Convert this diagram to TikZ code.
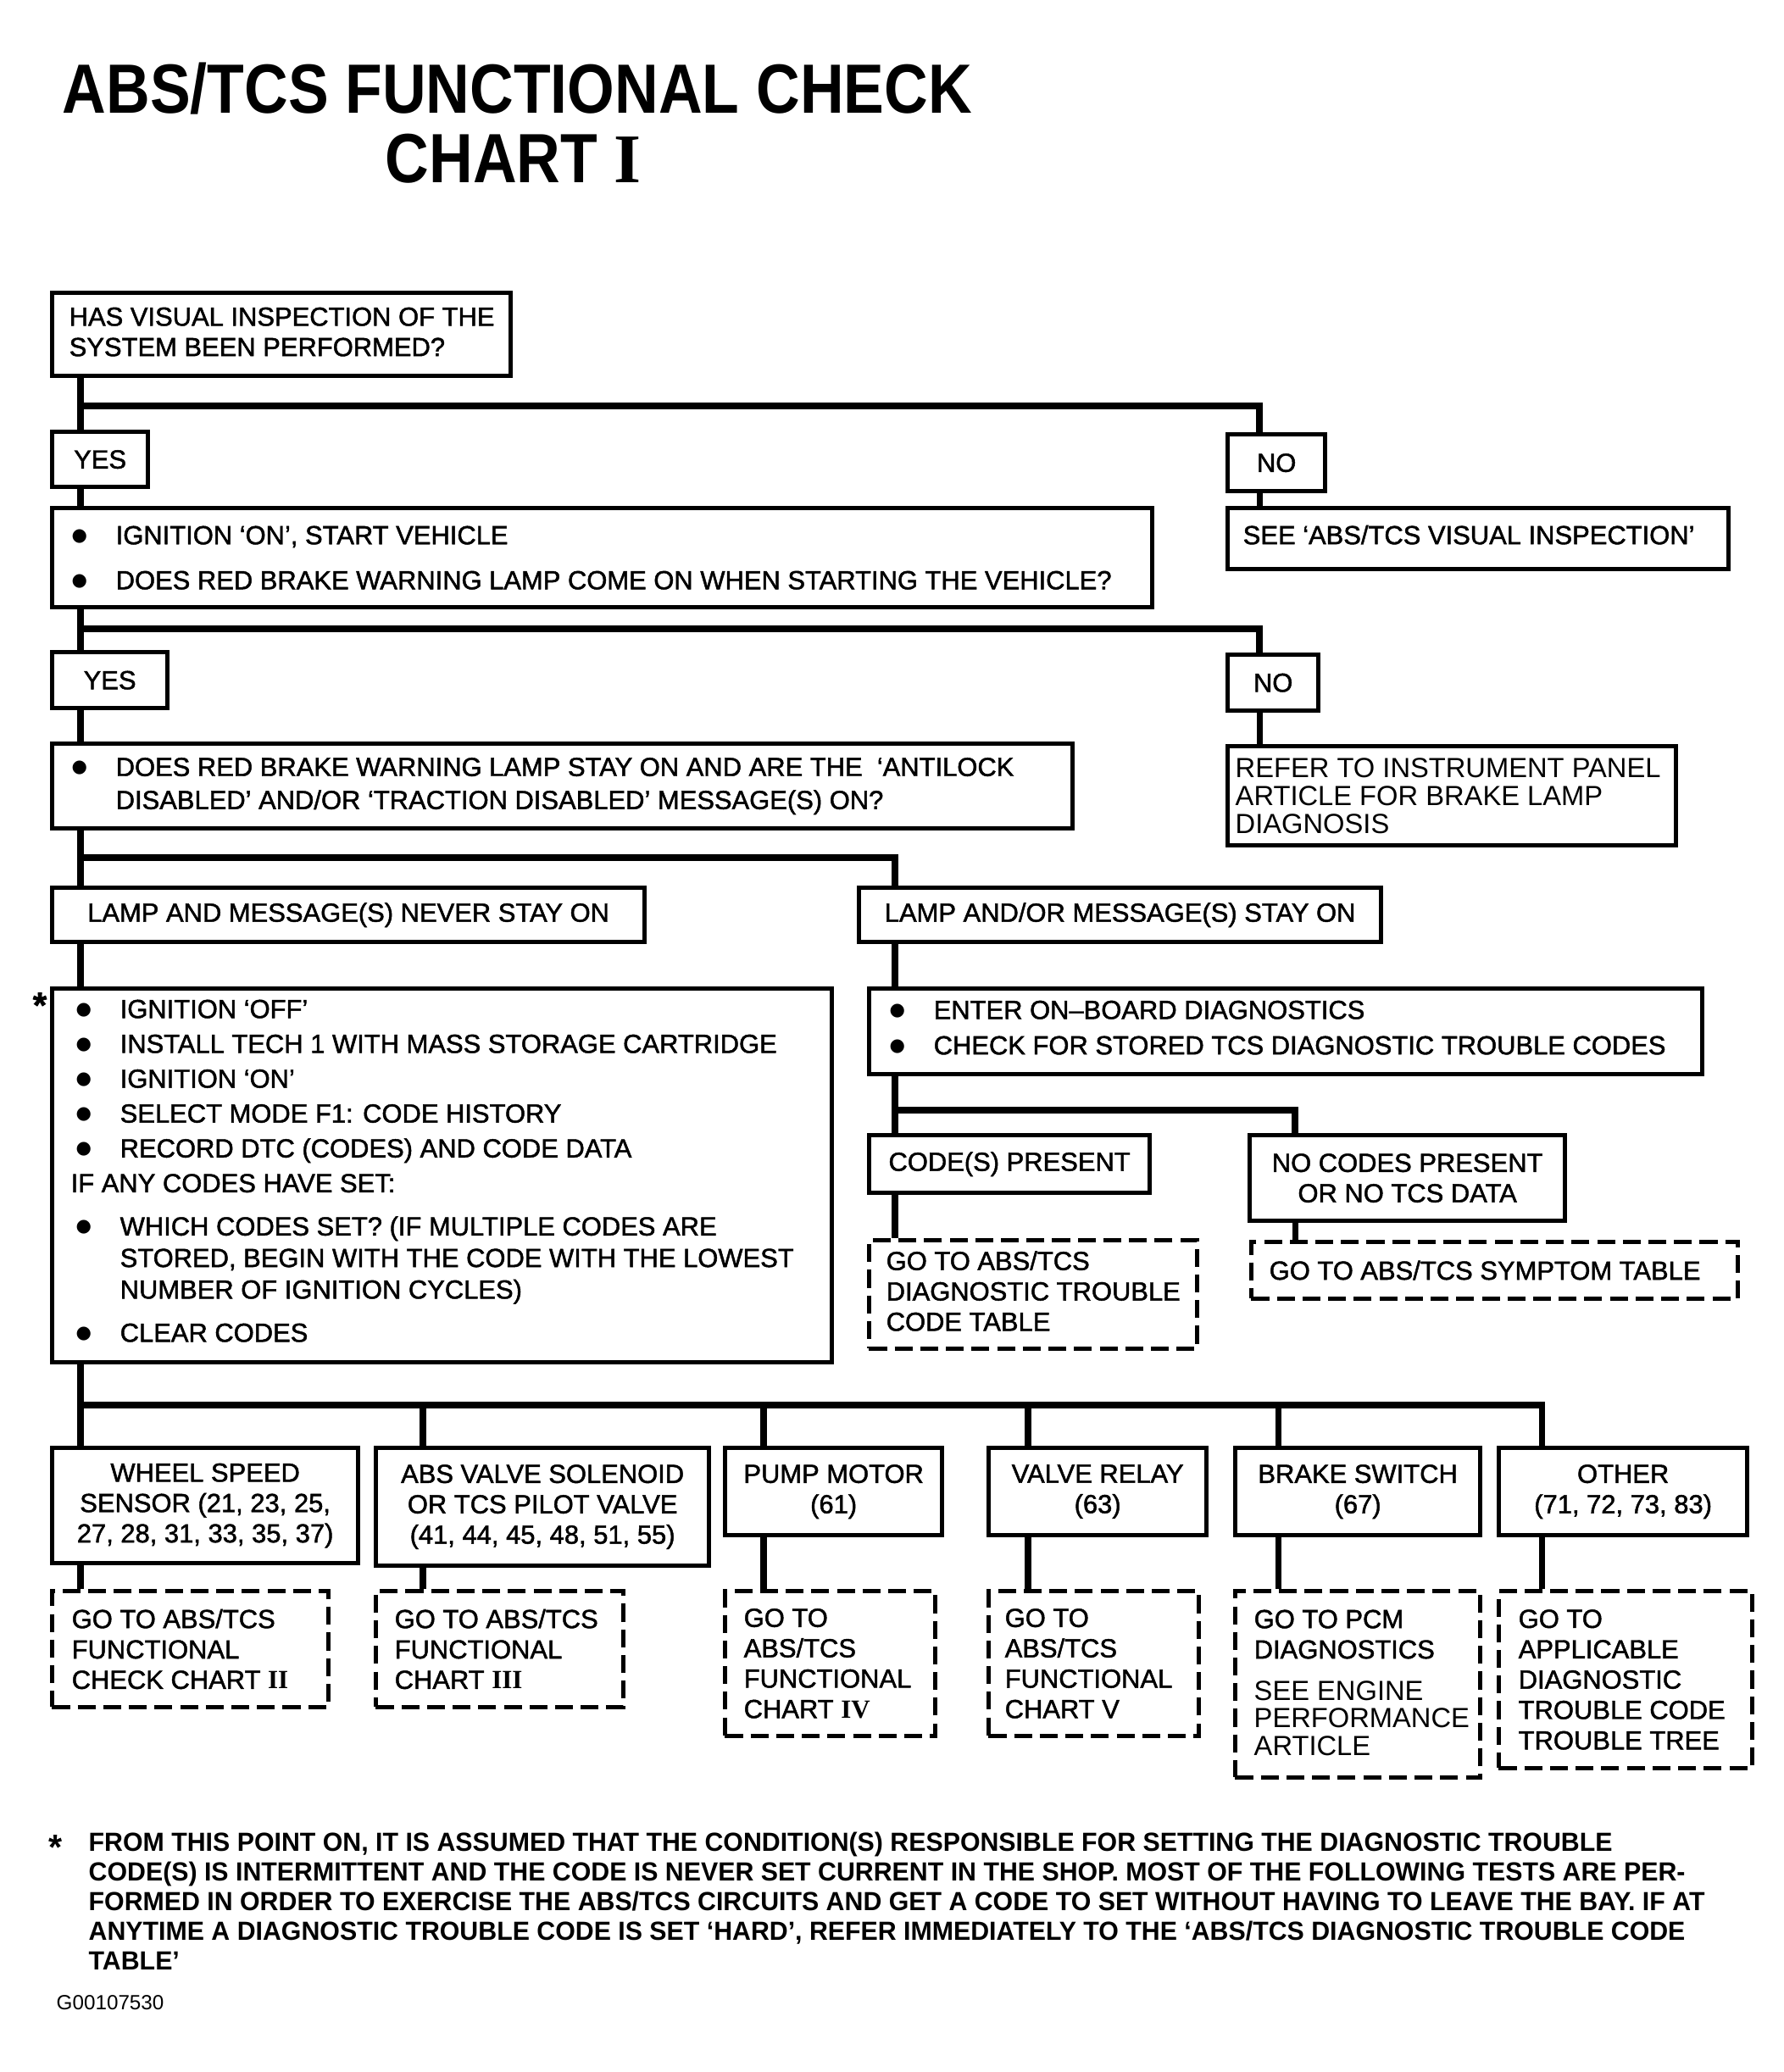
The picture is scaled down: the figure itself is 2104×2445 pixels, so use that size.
\documentclass[tikz,border=0pt]{standalone}
\usepackage{fontspec}
\setmainfont{Liberation Sans}
\newfontfamily\boxfont{Liberation Sans}[FakeBold=1.5]
\newfontfamily\lightfont{Liberation Sans}
\newfontfamily\headfont{Liberation Sans}[FakeStretch=0.87]
\newfontfamily\notefont{Liberation Sans}[FakeStretch=0.98]
\newfontfamily\numfont{Liberation Serif}
\newfontfamily\dotfont{DejaVu Sans}
\usetikzlibrary{positioning}
\definecolor{ink}{RGB}{0,0,0}
\newcommand{\boxsize}{\boxfont\fontsize{8.8pt}{10.2pt}\selectfont}
\newcommand{\lightsize}{\lightfont\fontsize{9.3pt}{9.3pt}\selectfont}
\newcommand{\itm}[1]{\makebox[5.2mm][l]{\raisebox{0.4mm}{\dotfont\fontsize{6pt}{6pt}\selectfont ●}}#1}
\newcommand{\ind}[1]{\hspace*{5.2mm}#1}
\newcommand{\rn}[1]{{\numfont\bfseries #1}}
\tikzset{
  frame/.style={draw=ink, line width=1.5pt, anchor=north west, inner sep=0pt},
  dframe/.style={frame, line width=1.4pt, dash pattern=on 6pt off 2.6pt},
  cbox/.style={frame, align=center, font=\boxsize, text=ink},
  txt/.style={inner sep=0pt, align=left, font=\boxsize, text=ink},
  wire/.style={draw=ink, line width=2pt, line join=miter},
  branch/.style={wire, line width=2.3pt, line cap=rect},
}
\begin{document}
\begin{tikzpicture}[x=0.1mm,y=-0.1mm]
  \useasboundingbox (0,0) rectangle (2104,2445);
  % heading
  \node[anchor=base west, inner sep=0pt, font=\headfont\bfseries\fontsize{23.4pt}{28pt}\selectfont] (head) at (73,133) {ABS/TCS FUNCTIONAL CHECK};
  \node[anchor=base west, inner sep=0pt, font=\headfont\bfseries\fontsize{23.4pt}{28pt}\selectfont] (headnum) at (454,215) {CHART {\numfont\bfseries I}};
  % column lines
  \coordinate (tL) at (95,0);
  \coordinate (tM) at (1056,0);
  \coordinate (tR) at (1486,0);
  \coordinate (tN) at (1528,0);
  % first question
  \node[frame, minimum width=54.1mm, minimum height=9.8mm] (visual) at (59,343) {};
  \node[txt, right=2.2mm of visual.west, yshift=0.3mm] (visualtx) {HAS VISUAL INSPECTION OF THE\\SYSTEM BEEN PERFORMED?};
  \node[cbox, minimum width=11.3mm, minimum height=6.5mm] (yes1) at (59,507) {YES};
  \node[cbox, minimum width=11.5mm, minimum height=6.7mm] (no1) at (1446,510) {NO};
  \node[frame, minimum width=59.1mm, minimum height=7.2mm] (seevis) at (1446,597) {};
  \node[txt, right=2.0mm of seevis.west, yshift=0.45mm] (seevistx) {SEE ‘ABS/TCS VISUAL INSPECTION’};
  % second question
  \node[frame, minimum width=129.8mm, minimum height=11.7mm] (ignite) at (59,597) {};
  \node[txt, right=2.5mm of ignite.west] (ignitetx) {\itm{IGNITION ‘ON’, START VEHICLE}\\[4.9pt]\itm{DOES RED BRAKE WARNING LAMP COME ON WHEN STARTING THE VEHICLE?}};
  \node[cbox, minimum width=13.6mm, minimum height=6.6mm] (yes2) at (59,767) {YES};
  \node[cbox, minimum width=10.7mm, minimum height=6.6mm] (no2) at (1446,770) {NO};
  \node[frame, minimum width=52.9mm, minimum height=11.7mm] (panel) at (1446,878) {};
  \node[txt, font=\lightsize, right=1.1mm of panel.west] (paneltx) {REFER TO INSTRUMENT PANEL\\ARTICLE FOR BRAKE LAMP\\DIAGNOSIS};
  % third question
  \node[frame, minimum width=120.4mm, minimum height=10mm] (stayon) at (59,875) {};
  \node[txt, right=2.5mm of stayon.west] (stayontx) {\itm{DOES RED BRAKE WARNING LAMP STAY ON AND ARE THE\ \ ‘ANTILOCK}\\[0.9pt]\ind{DISABLED’ AND/OR ‘TRACTION DISABLED’ MESSAGE(S) ON?}};
  \node[cbox, minimum width=69.9mm, minimum height=6.4mm] (never) at (59,1045) {LAMP AND MESSAGE(S) NEVER STAY ON};
  \node[cbox, minimum width=61.6mm, minimum height=6.4mm] (stays) at (1011,1045) {LAMP AND/OR MESSAGE(S) STAY ON};
  % never stay on: code history
  \node[frame, minimum width=92mm, minimum height=44.1mm] (steps) at (59,1164) {};
  \node[txt, font=\boxfont\fontsize{8.8pt}{11.7pt}\selectfont, right=3.0mm of steps.west, yshift=0.55mm] (stepstx) {\itm{IGNITION ‘OFF’}\\
    \itm{INSTALL TECH 1 WITH MASS STORAGE CARTRIDGE}\\
    \itm{IGNITION ‘ON’}\\
    \itm{SELECT MODE F1: CODE HISTORY}\\
    \itm{RECORD DTC (CODES) AND CODE DATA}\\
    \hspace*{-0.6mm}IF ANY CODES HAVE SET:\\[2.8pt]
    \itm{WHICH CODES SET? (IF MULTIPLE CODES ARE}\\[-1.1pt]
    \ind{STORED, BEGIN WITH THE CODE WITH THE LOWEST}\\[-1.1pt]
    \ind{NUMBER OF IGNITION CYCLES)}\\[2.8pt]
    \itm{CLEAR CODES}};
  \node[inner sep=0pt, font=\boxfont\bfseries\fontsize{12pt}{12pt}\selectfont] (star) at (47,1186) {*};
  % stay on: on-board diagnostics
  \node[frame, minimum width=98.3mm, minimum height=10.1mm] (obd) at (1023,1164) {};
  \node[txt, right=2.6mm of obd.west, yshift=0.45mm] (obdtx) {\itm{ENTER ON–BOARD DIAGNOSTICS}\\[1.7pt]\itm{CHECK FOR STORED TCS DIAGNOSTIC TROUBLE CODES}};
  \node[cbox, minimum width=33.1mm, minimum height=6.8mm] (present) at (1023,1337) {CODE(S) PRESENT};
  \node[cbox, minimum width=37.2mm, minimum height=10.1mm] (nocodes) at (1472,1337) {NO CODES PRESENT\\OR NO TCS DATA};
  \node[dframe, minimum width=38.7mm, minimum height=12.8mm] (dtctable) at (1023,1461) {};
  \node[txt, right=2.2mm of dtctable.west, yshift=0.4mm] (dtctabletx) {GO TO ABS/TCS\\DIAGNOSTIC TROUBLE\\CODE TABLE};
  \node[dframe, minimum width=57.4mm, minimum height=6.7mm] (symptom) at (1474,1463) {};
  \node[txt, right=2.3mm of symptom.west] (symptomtx) {GO TO ABS/TCS SYMPTOM TABLE};
  % code groups
  \node[cbox, minimum width=36.1mm, minimum height=13.6mm] (wheel) at (59,1706) {WHEEL SPEED\\SENSOR (21, 23, 25,\\27, 28, 31, 33, 35, 37)};
  \node[cbox, minimum width=39.3mm, minimum height=13.9mm] (absv) at (441,1706) {ABS VALVE SOLENOID\\OR TCS PILOT VALVE\\(41, 44, 45, 48, 51, 55)};
  \node[cbox, minimum width=25.6mm, minimum height=10.3mm] (pump) at (853,1706) {PUMP MOTOR\\(61)};
  \node[cbox, minimum width=25.7mm, minimum height=10.3mm] (relay) at (1164,1706) {VALVE RELAY\\(63)};
  \node[cbox, minimum width=28.9mm, minimum height=10.3mm] (brake) at (1455,1706) {BRAKE SWITCH\\(67)};
  \node[cbox, minimum width=29.3mm, minimum height=10.3mm] (other) at (1766,1706) {OTHER\\(71, 72, 73, 83)};
  % targets
  \node[dframe, minimum width=32.6mm, minimum height=13.7mm] (ch2) at (59,1875) {};
  \node[txt, right=2.5mm of ch2.west] (ch2tx) {GO TO ABS/TCS\\FUNCTIONAL\\CHECK CHART \rn{II}};
  \node[dframe, minimum width=29.2mm, minimum height=13.7mm] (ch3) at (441,1875) {};
  \node[txt, right=2.4mm of ch3.west] (ch3tx) {GO TO ABS/TCS\\FUNCTIONAL\\CHART \rn{III}};
  \node[dframe, minimum width=24.8mm, minimum height=17.1mm] (ch4) at (853,1875) {};
  \node[txt, right=2.4mm of ch4.west] (ch4tx) {GO TO\\ABS/TCS\\FUNCTIONAL\\CHART \rn{IV}};
  \node[dframe, minimum width=24.8mm, minimum height=17.1mm] (ch5) at (1164,1875) {};
  \node[txt, right=2.1mm of ch5.west] (ch5tx) {GO TO\\ABS/TCS\\FUNCTIONAL\\CHART V};
  \node[dframe, minimum width=28.9mm, minimum height=22mm] (pcm) at (1455,1875) {};
  \node[txt, anchor=west] (pcmtx) at ([xshift=2.4mm, yshift=-5.35mm]pcm.north west) {GO TO PCM\\DIAGNOSTICS};
  \node[txt, anchor=west, font=\lightsize] (enginetx) at ([xshift=2.4mm, yshift=-15.25mm]pcm.north west) {SEE ENGINE\\PERFORMANCE\\ARTICLE};
  \node[dframe, minimum width=29.9mm, minimum height=20.9mm] (appl) at (1766,1875) {};
  \node[txt, right=2.5mm of appl.west] (appltx) {GO TO\\APPLICABLE\\DIAGNOSTIC\\TROUBLE CODE\\TROUBLE TREE};
  % connectors
  \foreach \a/\b in {visual/yes1, yes1/ignite, ignite/yes2, yes2/stayon, stayon/never, never/steps}
    \draw[wire] (\a.south -| tL) -- (\b.north -| tL);
  \coordinate (j1) at (95,479);
  \coordinate (j2) at (95,742);
  \coordinate (j3) at (95,1012);
  \coordinate (j4) at (1056,1310);
  \coordinate (j5) at (95,1658);
  \coordinate (j6) at (1819,1658);
  \draw[branch] (j1) -| (no1.north -| tR);
  \draw[wire] (no1.south -| tR) -- (seevis.north -| tR);
  \draw[branch] (j2) -| (no2.north -| tR);
  \draw[wire] (no2.south -| tR) -- (panel.north -| tR);
  \draw[branch] (j3) -| (stays.north -| tM);
  \foreach \a/\b in {stays/obd, obd/present, present/dtctable}
    \draw[wire] (\a.south -| tM) -- (\b.north -| tM);
  \draw[branch] (j4) -| (nocodes.north -| tN);
  \draw[wire] (nocodes.south -| tN) -- (symptom.north -| tN);
  \draw[wire] (steps.south -| tL) -- (j5);
  \draw[branch] (j5) -- (j6);
  \foreach \up/\dn/\x in {wheel/ch2/95, absv/ch3/499, pump/ch4/901, relay/ch5/1213, brake/pcm/1508, other/appl/1819} {
    \coordinate (d) at (\x,0);
    \draw[wire] (j5 -| d) -- (\up.north -| d);
    \draw[wire] (\up.south -| d) -- (\dn.north -| d);
  }
  % footnote
  \node[inner sep=0pt, font=\notefont\bfseries\fontsize{12pt}{12pt}\selectfont] (mark) at (66,2180) {*};
  \node[txt, anchor=north west, font=\notefont\bfseries\fontsize{8.8pt}{9.96pt}\selectfont] (note) at (104,2161) {FROM THIS POINT ON, IT IS ASSUMED THAT THE CONDITION(S) RESPONSIBLE FOR SETTING THE DIAGNOSTIC TROUBLE\\
    CODE(S) IS INTERMITTENT AND THE CODE IS NEVER SET CURRENT IN THE SHOP. MOST OF THE FOLLOWING TESTS ARE PER-\\
    FORMED IN ORDER TO EXERCISE THE ABS/TCS CIRCUITS AND GET A CODE TO SET WITHOUT HAVING TO LEAVE THE BAY. IF AT\\
    ANYTIME A DIAGNOSTIC TROUBLE CODE IS SET ‘HARD’, REFER IMMEDIATELY TO THE ‘ABS/TCS DIAGNOSTIC TROUBLE CODE\\
    TABLE’};
  \node[anchor=base west, inner sep=0pt, font=\lightfont\fontsize{6.9pt}{8pt}\selectfont] (figid) at (66,2371) {G00107530};
\end{tikzpicture}
\end{document}
